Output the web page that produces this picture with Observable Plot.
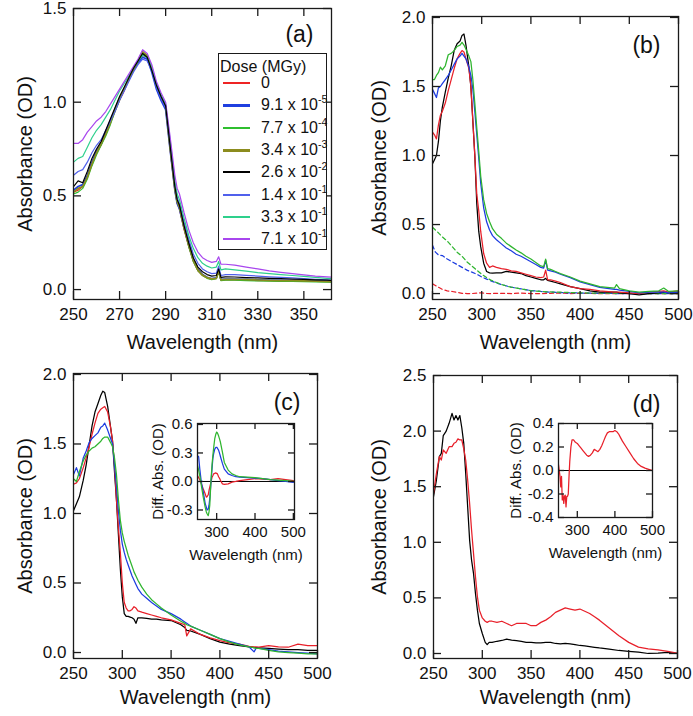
<!DOCTYPE html>
<html><head><meta charset="utf-8">
<script src="https://cdn.jsdelivr.net/npm/d3@7"></script>
<script src="https://cdn.jsdelivr.net/npm/@observablehq/plot@0.6"></script>
<style>
body{margin:0;background:#fff;}
#fig{position:relative;width:693px;height:716px;overflow:hidden;background:#fff;font-family:"Liberation Sans",Arial,Helvetica,sans-serif;color:#111;}
#fig svg{position:absolute;overflow:visible;}
.lg{position:absolute;font-size:16px;line-height:18px;white-space:nowrap;color:#111;}
.lg sup{font-size:10.5px;line-height:0;vertical-align:7px;}
</style></head><body><div id="fig"></div>
<script>
// ---------- Panel (a) ----------
const WL_A = [250,252,254,256,258,260,262,264,266,268,270,272,274,276,278,280,282,284,286,288,290,292,294,295,296,298,300,302,304,306,308,310,312,313,314,316,320,325,330,335,340,345,350,355,360,362];
const RED_A = [0.52,0.53,0.55,0.60,0.67,0.73,0.77,0.83,0.89,0.95,1.01,1.06,1.12,1.17,1.21,1.25,1.24,1.17,1.08,1.02,0.97,0.74,0.53,0.46,0.43,0.32,0.23,0.15,0.10,0.075,0.062,0.055,0.06,0.095,0.05,0.052,0.052,0.05,0.048,0.047,0.046,0.045,0.044,0.043,0.042,0.041];
const BLUE1_A = [0.53,0.55,0.56,0.61,0.68,0.74,0.78,0.84,0.90,0.96,1.02,1.07,1.12,1.17,1.21,1.24,1.23,1.16,1.07,1.01,0.96,0.74,0.53,0.46,0.43,0.33,0.24,0.16,0.11,0.08,0.066,0.058,0.062,0.10,0.054,0.056,0.056,0.054,0.052,0.05,0.049,0.048,0.047,0.046,0.045,0.044];
const GREEN_A = [0.51,0.52,0.54,0.59,0.66,0.72,0.77,0.82,0.88,0.95,1.01,1.07,1.12,1.17,1.22,1.26,1.25,1.18,1.09,1.03,0.98,0.75,0.54,0.47,0.44,0.33,0.23,0.15,0.10,0.075,0.06,0.053,0.058,0.095,0.048,0.05,0.05,0.048,0.046,0.045,0.044,0.043,0.042,0.041,0.04,0.04];
const OLIVE_A = [0.52,0.54,0.55,0.60,0.67,0.73,0.78,0.83,0.89,0.96,1.02,1.07,1.12,1.17,1.22,1.27,1.25,1.18,1.09,1.03,0.98,0.75,0.54,0.47,0.44,0.33,0.24,0.16,0.105,0.078,0.064,0.057,0.06,0.10,0.052,0.054,0.055,0.053,0.051,0.049,0.048,0.047,0.046,0.045,0.044,0.043];
const BLACK_A = [0.55,0.58,0.57,0.63,0.70,0.75,0.79,0.85,0.91,0.97,1.03,1.08,1.13,1.18,1.22,1.26,1.24,1.17,1.09,1.03,0.98,0.76,0.55,0.48,0.45,0.34,0.25,0.17,0.12,0.095,0.08,0.072,0.075,0.11,0.065,0.068,0.067,0.064,0.062,0.06,0.058,0.056,0.054,0.052,0.05,0.049];
const BLUE2_A = [0.61,0.63,0.64,0.68,0.73,0.77,0.80,0.85,0.90,0.95,1.01,1.06,1.11,1.16,1.20,1.23,1.22,1.17,1.08,1.02,0.97,0.77,0.56,0.49,0.46,0.36,0.27,0.19,0.14,0.11,0.095,0.085,0.088,0.125,0.075,0.08,0.08,0.076,0.072,0.068,0.065,0.062,0.058,0.055,0.052,0.05];
const TEAL_A = [0.68,0.70,0.71,0.76,0.81,0.85,0.88,0.92,0.96,1.01,1.06,1.10,1.14,1.18,1.22,1.25,1.24,1.19,1.10,1.04,0.99,0.79,0.58,0.51,0.48,0.38,0.29,0.22,0.17,0.14,0.125,0.115,0.12,0.15,0.105,0.11,0.105,0.098,0.09,0.085,0.08,0.075,0.07,0.065,0.06,0.058];
const PURPLE_A = [0.78,0.78,0.80,0.84,0.87,0.90,0.92,0.95,0.99,1.03,1.07,1.11,1.15,1.19,1.23,1.28,1.26,1.20,1.11,1.05,1.00,0.81,0.61,0.54,0.51,0.41,0.32,0.25,0.20,0.17,0.155,0.145,0.15,0.175,0.135,0.135,0.13,0.12,0.11,0.10,0.092,0.085,0.078,0.072,0.068,0.066];
const DOSE_MANT = ["0","9.1","7.7","3.4","2.6","1.4","3.3","7.1"];
const DOSE_EXP = [null,"-5","-4","-3","-2","-1","-1","-1"];
const DOSE_COLORS = ["#ee2424","#1f3fe0","#2fbf2f","#8c8c1e","#000000","#5060ec","#2ed08c","#a846ee"];
const DOSE_WIDTHS = [2,3,2,3,2,2,2,2];

// ---------- Panel (b) ----------
const WL_B = [250,252,254,256,258,260,263,266,269,272,275,278,280,282,284,287,289,291,293,295,297,299,302,305,308,311,315,320,325,330,335,340,345,350,355,360,363,365,367,370,375,380,390,400,410,420,435,437,440,450,460,470,480,485,490,500];
const BLACK_B = [0.94,0.97,1.00,1.10,1.25,1.35,1.46,1.56,1.65,1.76,1.81,1.83,1.87,1.88,1.80,1.64,1.50,1.25,1.00,0.65,0.45,0.34,0.22,0.16,0.15,0.148,0.15,0.15,0.16,0.155,0.15,0.145,0.13,0.12,0.11,0.10,0.10,0.11,0.095,0.09,0.08,0.07,0.05,0.035,0.02,0.01,0.01,0.01,0.005,0.0,-0.01,0.0,0.005,0.01,0.005,0.01];
const RED_B = [1.17,1.15,1.12,1.22,1.29,1.32,1.38,1.47,1.55,1.63,1.70,1.74,1.76,1.75,1.70,1.63,1.50,1.25,1.00,0.72,0.60,0.45,0.29,0.22,0.19,0.20,0.19,0.18,0.175,0.165,0.16,0.15,0.14,0.13,0.12,0.115,0.12,0.17,0.10,0.10,0.09,0.08,0.05,0.035,0.03,0.02,0.01,0.01,0.01,0.005,0.0,0.01,0.015,0.02,0.01,0.02];
const GREEN_B = [1.55,1.55,1.58,1.60,1.64,1.62,1.65,1.73,1.74,1.76,1.79,1.80,1.82,1.80,1.77,1.72,1.68,1.55,1.38,1.20,1.03,0.85,0.68,0.58,0.52,0.47,0.43,0.40,0.365,0.34,0.315,0.295,0.27,0.25,0.225,0.20,0.195,0.25,0.18,0.175,0.16,0.145,0.12,0.09,0.07,0.05,0.04,0.065,0.035,0.02,0.01,0.015,0.02,0.04,0.015,0.02];
const BLUE_B = [1.48,1.45,1.42,1.49,1.50,1.52,1.55,1.58,1.62,1.66,1.70,1.72,1.74,1.72,1.70,1.64,1.58,1.48,1.32,1.15,0.98,0.80,0.62,0.52,0.46,0.42,0.39,0.36,0.33,0.31,0.285,0.27,0.25,0.23,0.21,0.19,0.185,0.24,0.17,0.165,0.155,0.14,0.115,0.085,0.065,0.045,0.03,0.03,0.025,0.015,0.005,0.01,0.01,0.01,0.005,0.01];
const WL_BD = [250,253,256,260,265,270,275,280,285,290,295,300,305,310,315,320,330,340,350,360,370,380,390,400,420,440,460,480,500];
const GREEN_BD = [0.48,0.46,0.44,0.41,0.38,0.34,0.30,0.27,0.23,0.20,0.17,0.14,0.115,0.095,0.08,0.065,0.046,0.034,0.022,0.015,0.012,0.01,0.008,0.005,0.003,0.002,0.0,0.0,0.0];
const BLUE_BD = [0.35,0.30,0.28,0.275,0.25,0.23,0.21,0.19,0.17,0.155,0.14,0.12,0.105,0.09,0.077,0.065,0.046,0.034,0.022,0.015,0.01,0.007,0.005,0.004,0.002,0.0,0.0,0.0,0.0];
const RED_BD = [0.07,0.058,0.046,0.03,0.02,0.015,0.008,0.002,0.0,0.0,0.003,0.005,0.002,0.0,0.002,0.002,0.0,0.004,0.0,0.0,0.002,0.004,0.0,0.002,0.0,0.0,0.0,0.0,0.0];

// ---------- Panel (c) ----------
const WL_C = [250,253,256,260,263,266,269,272,275,278,280,282,285,288,290,292,294,296,298,300,302,304,306,308,310,312,314,316,320,325,330,335,340,350,360,364,366,370,380,390,400,410,420,430,435,437,440,450,460,470,480,490,500];
const BLACK_C = [1.02,1.07,1.12,1.24,1.35,1.49,1.63,1.73,1.79,1.85,1.88,1.87,1.77,1.62,1.52,1.30,1.10,0.85,0.60,0.40,0.28,0.26,0.26,0.255,0.25,0.24,0.21,0.25,0.25,0.245,0.24,0.24,0.235,0.23,0.20,0.18,0.16,0.155,0.13,0.10,0.075,0.06,0.05,0.04,0.035,0.035,0.034,0.03,0.025,0.02,0.02,0.015,0.015];
const RED_C = [1.21,1.22,1.25,1.33,1.40,1.48,1.57,1.65,1.72,1.75,1.76,1.77,1.73,1.62,1.52,1.35,1.10,0.90,0.72,0.50,0.36,0.32,0.30,0.30,0.31,0.33,0.32,0.30,0.29,0.28,0.27,0.26,0.25,0.235,0.21,0.20,0.12,0.17,0.13,0.105,0.085,0.07,0.06,0.045,0.04,0.04,0.038,0.05,0.04,0.038,0.06,0.05,0.05];
const BLUE_C = [1.28,1.33,1.27,1.40,1.45,1.51,1.54,1.56,1.58,1.62,1.63,1.65,1.60,1.54,1.50,1.35,1.20,1.02,0.88,0.78,0.72,0.67,0.63,0.59,0.55,0.52,0.49,0.46,0.42,0.39,0.36,0.335,0.31,0.28,0.24,0.22,0.21,0.19,0.16,0.13,0.10,0.08,0.06,0.04,0.005,0.03,0.03,0.02,0.01,0.005,0.0,-0.005,-0.01];
const GREEN_C = [1.25,1.23,1.30,1.38,1.42,1.45,1.47,1.48,1.50,1.52,1.54,1.55,1.55,1.51,1.48,1.40,1.28,1.10,0.95,0.86,0.80,0.75,0.70,0.66,0.62,0.58,0.55,0.52,0.47,0.42,0.38,0.35,0.32,0.27,0.225,0.21,0.20,0.19,0.16,0.13,0.10,0.075,0.055,0.04,0.035,0.03,0.03,0.015,0.005,0.0,-0.005,-0.01,-0.01];
const WL_CI = [250,253,256,260,265,270,273,275,278,280,282,285,288,290,292,295,298,300,302,305,308,310,315,320,330,340,350,360,380,400,420,440,460,480,500];
const GREEN_CI = [0.17,0.12,0.06,-0.04,-0.165,-0.27,-0.32,-0.34,-0.36,-0.32,-0.25,0.0,0.18,0.27,0.35,0.45,0.50,0.52,0.51,0.48,0.44,0.41,0.31,0.20,0.12,0.08,0.063,0.05,0.045,0.04,0.03,0.02,0.015,0.01,0.0];
const BLUE_CI = [0.27,0.26,0.13,-0.01,-0.11,-0.23,-0.27,-0.30,-0.29,-0.25,-0.18,-0.02,0.14,0.24,0.29,0.34,0.36,0.36,0.35,0.33,0.29,0.26,0.19,0.13,0.08,0.063,0.05,0.046,0.04,0.035,0.03,0.02,0.01,0.0,-0.01];
const RED_CI = [0.063,0.04,0.02,-0.025,-0.08,-0.13,-0.165,-0.16,-0.14,-0.095,-0.06,-0.01,0.045,0.06,0.08,0.085,0.09,0.085,0.08,0.05,0.03,0.01,-0.025,-0.03,-0.025,-0.007,0.0,0.01,0.02,0.03,0.025,0.02,0.03,0.02,0.01];

// ---------- Panel (d) ----------
const WL_D = [250,253,256,258,260,263,266,269,271,273,275,277,279,281,283,285,287,289,291,293,295,297,300,303,305,307,310,315,320,325,330,335,340,345,350,355,360,365,370,375,380,385,390,395,400,405,410,415,420,430,440,450,460,470,480,490,500];
const BLACK_D = [1.41,1.56,1.77,1.80,1.96,2.00,2.07,2.16,2.10,2.14,2.10,2.14,2.03,1.89,1.62,1.32,1.02,0.84,0.72,0.54,0.39,0.27,0.18,0.10,0.08,0.10,0.10,0.11,0.117,0.13,0.12,0.115,0.108,0.10,0.10,0.095,0.096,0.10,0.10,0.09,0.087,0.09,0.087,0.08,0.072,0.068,0.062,0.056,0.05,0.04,0.027,0.02,0.012,0.0,0.003,0.01,0.0];
const RED_D = [1.44,1.62,1.77,1.74,1.83,1.80,1.86,1.86,1.89,1.90,1.93,1.92,1.92,1.84,1.74,1.56,1.35,1.11,0.90,0.69,0.51,0.39,0.32,0.29,0.28,0.29,0.29,0.28,0.29,0.27,0.25,0.27,0.27,0.27,0.25,0.25,0.28,0.30,0.33,0.37,0.39,0.41,0.40,0.39,0.40,0.38,0.36,0.33,0.30,0.23,0.16,0.10,0.057,0.042,0.033,0.02,0.003];
const WL_DI = [250,252,254,256,258,260,262,264,266,268,270,272,274,276,278,280,283,286,290,295,300,305,310,315,320,325,330,335,340,345,350,355,360,365,370,375,380,385,390,395,400,405,410,415,420,430,440,450,460,470,480,490,500];
const RED_DI = [0.05,0.0,-0.05,-0.14,-0.05,-0.25,-0.21,-0.28,-0.22,-0.21,-0.31,-0.22,-0.22,-0.2,-0.05,0.08,0.2,0.26,0.26,0.24,0.23,0.21,0.19,0.17,0.15,0.13,0.12,0.13,0.15,0.18,0.17,0.16,0.18,0.21,0.25,0.29,0.32,0.33,0.33,0.33,0.34,0.33,0.31,0.28,0.25,0.20,0.15,0.10,0.06,0.035,0.02,0.01,0.0];

// ---------- tick values ----------
const XT_A = [250,270,290,310,330,350];
const YT_A = [0,0.5,1.0,1.5];
const XT_MAIN = [250,300,350,400,450,500];
const YT_BC = [0,0.5,1.0,1.5,2.0];
const YT_D = [0,0.5,1.0,1.5,2.0,2.5];
const XT_IN = [300,400,500];
const YT_CI = [-0.3,0,0.3,0.6];
const YT_DI = [-0.4,-0.2,0,0.2,0.4];

const RED = "#e8202a", BLUE = "#1c3ce0", GREEN = "#2fb52f", BLACK = "#000000";
const FONT = '"Liberation Sans", Arial, Helvetica, sans-serif';
const INK = "#1a1a1a";
const fig = document.getElementById("fig");
const rows = (wl, v) => wl.map((w, i) => ({w, v: v[i]})).filter(d => d.v != null);
const f1 = d => d.toFixed(1);
const f0 = d => String(d);

function panel(p) {
  const fw = p.width - p.ml - p.mr, fh = p.height - p.mt - p.mb, tl = p.tickLen;
  const marks = [];
  if (p.zero) marks.push(Plot.ruleY([0], {stroke: "#000", strokeWidth: 1}));
  for (const s of p.series) {
    marks.push(Plot.line(s.data, {x: "w", y: "v", stroke: s.color, strokeWidth: s.width || 1.25, clip: true, ...(s.dash ? {strokeDasharray: s.dash} : {})}));
  }
  const tk = {stroke: INK, strokeWidth: 1.3};
  marks.push(
    Plot.frame({stroke: INK, strokeWidth: 1.3}),
    Plot.ruleX(p.xticks, {x: d => d, insetBottom: fh - tl, ...tk}),
    Plot.ruleX(p.xticks, {x: d => d, insetTop: fh - tl, ...tk}),
    Plot.ruleY(p.yticks, {y: d => d, insetRight: fw - tl, ...tk}),
    Plot.ruleY(p.yticks, {y: d => d, insetLeft: fw - tl, ...tk}),
    Plot.axisX(p.xticks, {tickSize: 0, tickPadding: p.xPad, fontSize: p.tickFont, tickFormat: p.xfmt, label: null}),
    Plot.axisY(p.yticks, {tickSize: 0, tickPadding: p.yPad, fontSize: p.tickFont, tickFormat: p.yfmt, label: null}),
    Plot.text([p.xTitle], {text: d => d, frameAnchor: "bottom", textAnchor: "middle", lineAnchor: "middle", dy: p.xTitleDy, fontSize: p.titleFont}),
    Plot.text([p.yTitle], {text: d => d, frameAnchor: "left", textAnchor: "middle", lineAnchor: "middle", rotate: -90, dx: p.yTitleDx, fontSize: p.titleFont})
  );
  if (p.tag) marks.push(Plot.text([p.tag], {text: d => d, frameAnchor: "top-right", textAnchor: "end", lineAnchor: "middle", dx: p.tagDx, dy: p.tagDy, fontSize: 23}));
  const svg = Plot.plot({
    width: p.width, height: p.height,
    marginLeft: p.ml, marginRight: p.mr, marginTop: p.mt, marginBottom: p.mb,
    x: {domain: p.xdom}, y: {domain: p.ydom},
    style: {fontFamily: FONT, background: "transparent", overflow: "visible", color: "#111"},
    marks
  });
  svg.style.position = "absolute";
  svg.style.left = p.left + "px";
  svg.style.top = p.top + "px";
  fig.appendChild(svg);
  return svg;
}

const mainCommon = {tickLen: 8, tickFont: 17, titleFont: 20, xPad: 8, yPad: 7, xTitle: "Wavelength (nm)", yTitle: "Absorbance (OD)"};
const insetCommon = {tickLen: 6, tickFont: 15, titleFont: 15, xPad: 7, yPad: 5, xTitle: "Wavelength (nm)", yTitle: "Diff. Abs. (OD)", xTitleDy: 36, zero: true};

// (a)
const seriesA = [RED_A, BLUE1_A, GREEN_A, OLIVE_A, BLUE2_A, TEAL_A, PURPLE_A, BLACK_A];
const colorOrderA = [0,1,2,3,5,6,7,4];
panel({...mainCommon, left: 0, top: 0, width: 346, height: 340, ml: 73, mr: 15, mt: 8, mb: 41,
  xdom: [250, 362], ydom: [-0.053, 1.5], xticks: XT_A, yticks: YT_A, xfmt: f0, yfmt: f1,
  xTitleDy: 43, yTitleDx: -47.5, tag: "(a)", tagDx: -18, tagDy: 26,
  series: seriesA.map((v, i) => ({data: rows(WL_A, v), color: DOSE_COLORS[colorOrderA[i]], width: DOSE_WIDTHS[colorOrderA[i]] > 2 ? 1.7 : 1.2}))
});

// legend for (a)
(function legend() {
  const box = document.createElement("div");
  Object.assign(box.style, {position: "absolute", left: "218px", top: "53px", width: "109px", height: "197px", boxSizing: "border-box", border: "1.3px solid #1a1a1a", background: "#fff"});
  fig.appendChild(box);
  const t = document.createElement("div");
  t.className = "lg"; t.textContent = "Dose (MGy)";
  Object.assign(t.style, {left: "220px", top: (67 - 9) + "px"});
  fig.appendChild(t);
  DOSE_MANT.forEach((m, i) => {
    const cy = Math.round(83 + i * 22.3);
    const ln = document.createElement("div");
    const w = DOSE_WIDTHS[i];
    Object.assign(ln.style, {position: "absolute", left: "223px", width: "27px", top: Math.round(cy - w / 2) + "px", height: w + "px", background: DOSE_COLORS[i]});
    fig.appendChild(ln);
    const tx = document.createElement("div");
    tx.className = "lg";
    tx.innerHTML = DOSE_EXP[i] ? `${m} x 10<sup>${DOSE_EXP[i]}</sup>` : m;
    Object.assign(tx.style, {left: "261px", top: (cy - 9) + "px"});
    fig.appendChild(tx);
  });
})();

// (b)
panel({...mainCommon, left: 346, top: 0, width: 347, height: 340, ml: 86, mr: 15, mt: 16, mb: 41,
  xdom: [250, 500], ydom: [-0.043, 2.007], xticks: XT_MAIN, yticks: YT_BC, xfmt: f0, yfmt: f1,
  xTitleDy: 43, yTitleDx: -52.5, tag: "(b)", tagDx: -18, tagDy: 29,
  series: [
    {data: rows(WL_BD, RED_BD), color: RED, dash: "4,3"},
    {data: rows(WL_BD, BLUE_BD), color: BLUE, dash: "4,3"},
    {data: rows(WL_BD, GREEN_BD), color: GREEN, dash: "4,3"},
    {data: rows(WL_B, BLACK_B), color: BLACK},
    {data: rows(WL_B, RED_B), color: RED},
    {data: rows(WL_B, BLUE_B), color: BLUE},
    {data: rows(WL_B, GREEN_B), color: GREEN}
  ]
});

// (c)
panel({...mainCommon, left: 0, top: 340, width: 346, height: 376, ml: 73, mr: 29, mt: 33, mb: 58,
  xdom: [250, 500], ydom: [-0.043, 2.007], xticks: XT_MAIN, yticks: YT_BC, xfmt: f0, yfmt: f1,
  xTitleDy: 39, yTitleDx: -48, tag: "(c)", tagDx: -17, tagDy: 29.5,
  series: [
    {data: rows(WL_C, BLACK_C), color: BLACK},
    {data: rows(WL_C, RED_C), color: RED},
    {data: rows(WL_C, BLUE_C), color: BLUE},
    {data: rows(WL_C, GREEN_C), color: GREEN}
  ]
});
panel({...insetCommon, left: 140, top: 410, width: 170, height: 165, ml: 57, mr: 16, mt: 13, mb: 56,
  xdom: [250, 503], ydom: [-0.40, 0.61], xticks: XT_IN, yticks: YT_CI, xfmt: f0, yfmt: f1,
  yTitleDx: -39.5,
  series: [
    {data: rows(WL_CI, RED_CI), color: RED},
    {data: rows(WL_CI, BLUE_CI), color: BLUE},
    {data: rows(WL_CI, GREEN_CI), color: GREEN}
  ]
});

// (d)
panel({...mainCommon, left: 346, top: 340, width: 347, height: 376, ml: 87, mr: 16, mt: 35, mb: 58,
  xdom: [250, 500], ydom: [-0.045, 2.5], xticks: XT_MAIN, yticks: YT_D, xfmt: f0, yfmt: f1,
  xTitleDy: 39, yTitleDx: -53.5, tag: "(d)", tagDx: -17, tagDy: 29,
  series: [
    {data: rows(WL_D, BLACK_D), color: BLACK},
    {data: rows(WL_D, RED_D), color: RED}
  ]
});
panel({...insetCommon, left: 495, top: 410, width: 175, height: 165, ml: 63, mr: 18, mt: 13, mb: 58,
  xdom: [250, 500], ydom: [-0.4, 0.4], xticks: XT_IN, yticks: YT_DI, xfmt: f0, yfmt: f1,
  yTitleDx: -42.5,
  series: [
    {data: rows(WL_DI, RED_DI), color: RED}
  ]
});
</script></body></html>
